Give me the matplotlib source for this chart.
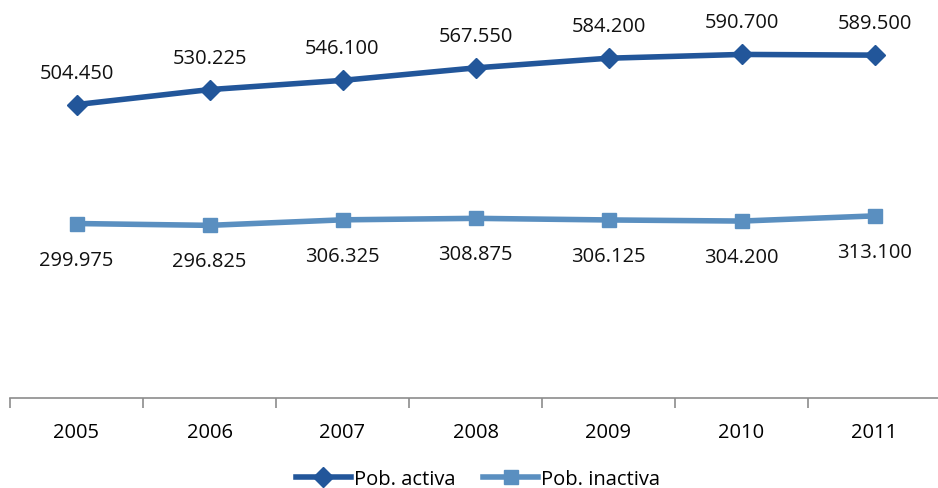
import matplotlib.pyplot as plt
from matplotlib.lines import Line2D

years = ['2005', '2006', '2007', '2008', '2009', '2010', '2011']
activa = [504.450, 530.225, 546.100, 567.550, 584.200, 590.700, 589.500]
inactiva = [299.975, 296.825, 306.325, 308.875, 306.125, 304.200, 313.100]

plt.rcParams['font.family'] = ['Open Sans', 'DejaVu Sans']

dark = '#22569A'
light = '#5A8FC0'
fs = 14.5

fig = plt.figure(figsize=(9.38, 4.89), dpi=100)
ax = fig.add_axes([10 / 938, 90 / 489, 931 / 938, 399 / 489])

x = range(len(years))
ax.plot(x, activa, color=dark, lw=4, marker='D', ms=10, label='Pob. activa')
ax.plot(x, inactiva, color=light, lw=4, marker='s', ms=10, label='Pob. inactiva')

for i, v in enumerate(activa):
    ax.annotate(f'{v:.3f}', (i, v), xytext=(0, 23), textcoords='offset points',
                ha='center', va='center', fontsize=fs, color='#111111')
for i, v in enumerate(inactiva):
    ax.annotate(f'{v:.3f}', (i, v), xytext=(0, -26), textcoords='offset points',
                ha='center', va='center', fontsize=fs, color='#111111')

ax.set_xlim(-0.5, 6.5)
ax.set_ylim(0, 686)
ax.set_yticks([])
ax.set_xticks([i - 0.5 for i in range(8)])
ax.set_xticklabels([])
ax.set_xticks(list(x), minor=True)
ax.set_xticklabels(years, minor=True, fontsize=fs)
ax.tick_params(axis='x', which='major', length=7, color='#8C8C8C', width=1.2, direction='out')
ax.tick_params(axis='x', which='minor', length=0, pad=17.5)
for s in ['top', 'right', 'left']:
    ax.spines[s].set_visible(False)
ax.spines['bottom'].set_color('#8C8C8C')
ax.spines['bottom'].set_linewidth(1.2)

handles = [Line2D([], [], color=dark, lw=4, marker='D', ms=10),
           Line2D([], [], color=light, lw=4, marker='s', ms=10)]
fig.legend(handles, ['Pob. activa', 'Pob. inactiva'], loc='center',
           bbox_to_anchor=(478 / 938, 1 - 480 / 489), ncol=2, frameon=False,
           fontsize=fs, handlelength=2.7, handletextpad=0.15, columnspacing=1.4)

fig.savefig('out.png', dpi=100)
